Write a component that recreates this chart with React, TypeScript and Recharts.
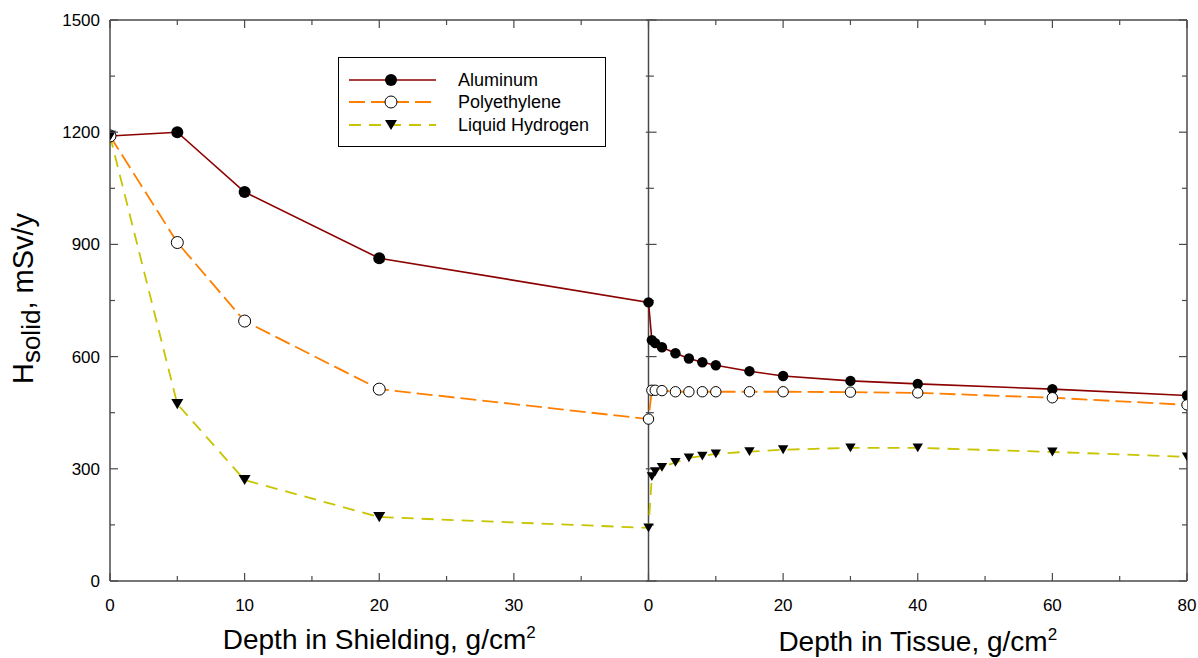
import React from "react";
import { ComposedChart, Line, XAxis, YAxis, ReferenceLine, Legend } from "recharts";

// depth behind the shield (g/cm2) and dose at that depth (mSv/y)
const shieldingDepth = [0, 5, 10, 20, 40];
const aluminumShielding = [1190, 1200, 1040, 863, 745];
const polyethyleneShielding = [1190, 905, 695, 513, 433];
const hydrogenShielding = [1190, 473, 270, 171, 142];

// depth in tissue behind 40 g/cm2 of shielding
const tissueDepth = [0.5, 1, 2, 4, 6, 8, 10, 15, 20, 30, 40, 60, 80];
const aluminumTissue = [644, 636, 625, 609, 595, 585, 577, 561, 548, 535, 527, 513, 496];
const polyethyleneTissue = [510, 510, 509, 506, 506, 506, 506, 506, 506, 505, 503, 490, 471];
const hydrogenTissue = [279, 292, 304, 317, 329, 334, 340, 346, 351, 356, 356, 345, 332];

const shieldingTicks = [0, 10, 20, 30];
const tissueTicks = [0, 20, 40, 60, 80];
const doseTicks = [0, 300, 600, 900, 1200, 1500];

const FONT = "'Liberation Sans', Arial, sans-serif";
const FRAME = "#4a4a4a";
const W = 1198;
const H = 658;

// the chart fills the whole window, so drop the default body margin
if (typeof document !== "undefined") document.body.style.margin = "0";

// both panels share one x scale: shielding 0..40 on the left, tissue 0..80 squeezed into 40..80
const SPLIT = 40;
const tissuePos = (t: number) => SPLIT + t / 2;

const rows = [
  ...shieldingDepth.map((d, i) => ({
    x: d,
    aluminum: aluminumShielding[i],
    polyethylene: polyethyleneShielding[i],
    hydrogen: hydrogenShielding[i],
  })),
  ...tissueDepth.map((d, i) => ({
    x: tissuePos(d),
    aluminum: aluminumTissue[i],
    polyethylene: polyethyleneTissue[i],
    hydrogen: hydrogenTissue[i],
  })),
];

const xLabels = new Map<number, string>();
shieldingTicks.forEach((t) => xLabels.set(t, String(t)));
tissueTicks.forEach((t) => xLabels.set(tissuePos(t), String(t)));
const xMajor = Array.from(xLabels.keys()).sort((a, b) => a - b);
const xMinor = xMajor.slice(1).map((v, i) => (v + xMajor[i]) / 2);
const xAll = [...xMajor, ...xMinor].sort((a, b) => a - b);

const yMinor = doseTicks.slice(1).map((v, i) => (v + doseTicks[i]) / 2);
const yAll = [...doseTicks, ...yMinor].sort((a, b) => a - b);

const series = [
  { key: "aluminum", name: "Aluminum", color: "#8b0000", dash: undefined, width: 1.6, marker: "filled" },
  { key: "polyethylene", name: "Polyethylene", color: "#ff7f00", dash: "16 6", width: 1.8, marker: "open" },
  { key: "hydrogen", name: "Liquid Hydrogen", color: "#c8c400", dash: "12 8", width: 1.8, marker: "triangle" },
];

function Marker({ kind, cx, cy, r }: { kind: string; cx: number; cy: number; r: number }) {
  if (kind === "triangle") {
    const w = r * 2;
    const h = r * 1.7;
    return (
      <polygon
        points={`${cx - w / 2},${cy - h / 2} ${cx + w / 2},${cy - h / 2} ${cx},${cy + h / 2}`}
        fill="#000"
      />
    );
  }
  if (kind === "open") return <circle cx={cx} cy={cy} r={r} fill="#fff" stroke="#000" strokeWidth={1} />;
  return <circle cx={cx} cy={cy} r={r} fill="#000" />;
}

const makeDot = (kind: string) => (p: any) => {
  if (p.cx == null || p.cy == null) return <g key={`${kind}-${p.index}`} />;
  const r = p.payload.x < SPLIT ? 6 : 5.2;
  return <Marker key={`${kind}-${p.index}`} kind={kind} cx={p.cx} cy={p.cy} r={r} />;
};

function BottomTick(props: any) {
  const { x, y, payload } = props;
  const label = xLabels.get(payload.value);
  const major = label !== undefined;
  return (
    <g>
      <line x1={x} x2={x} y1={y} y2={y - (major ? 8 : 5)} stroke={FRAME} strokeWidth={1.2} />
      {major && (
        <text x={x} y={y + 30} textAnchor="middle" fontSize={17} fontFamily={FONT} fill="#000">
          {label}
        </text>
      )}
    </g>
  );
}

function TopTick(props: any) {
  const { x, y, payload } = props;
  const major = xLabels.has(payload.value);
  return <line x1={x} x2={x} y1={y} y2={y + (major ? 8 : 5)} stroke={FRAME} strokeWidth={1.2} />;
}

function LeftTick(props: any) {
  const { x, y, payload } = props;
  const major = doseTicks.includes(payload.value);
  return (
    <g>
      <line x1={x} x2={x + (major ? 8 : 5)} y1={y} y2={y} stroke={FRAME} strokeWidth={1.2} />
      {major && (
        <text x={x - 10} y={y + 6} textAnchor="end" fontSize={17} fontFamily={FONT} fill="#000">
          {payload.value}
        </text>
      )}
    </g>
  );
}

function RightTick(props: any) {
  const { x, y, payload } = props;
  const major = doseTicks.includes(payload.value);
  return <line x1={x} x2={x - (major ? 8 : 5)} y1={y} y2={y} stroke={FRAME} strokeWidth={1.2} />;
}

function XTitles(props: any) {
  const vb = props.viewBox || { x: 110, y: 581, width: 1077 };
  const half = vb.width / 2;
  return (
    <g fontFamily={FONT} fill="#000">
      <text x={vb.x + half / 2} y={vb.y + 68} textAnchor="middle" fontSize={28}>
        Depth in Shielding, g/cm<tspan dy={-11} fontSize={17}>2</tspan>
      </text>
      <text x={vb.x + half * 1.5} y={vb.y + 70} textAnchor="middle" fontSize={28}>
        Depth in Tissue, g/cm<tspan dy={-11} fontSize={17}>2</tspan>
      </text>
    </g>
  );
}

function YTitle(props: any) {
  const vb = props.viewBox || { x: 0, y: 20, width: 110, height: 561 };
  const cx = vb.x + 33;
  const cy = vb.y + vb.height / 2 - 2;
  return (
    <text
      transform={`translate(${cx},${cy}) rotate(-90)`}
      x={0}
      y={0}
      textAnchor="middle"
      fontSize={29}
      fontFamily={FONT}
      fill="#000"
    >
      H<tspan fontSize={26} dy={7}>solid</tspan>
      <tspan dy={-7}>, mSv/y</tspan>
    </text>
  );
}

function LegendBox() {
  const rowsY = [23, 45, 68];
  return (
    <svg width={268} height={90} style={{ display: "block" }}>
      <rect x={0.5} y={0.5} width={267} height={89} fill="#fff" stroke="#000" strokeWidth={1} />
      {series.map((s, i) => (
        <g key={s.key}>
          <line
            x1={11}
            x2={98}
            y1={rowsY[i]}
            y2={rowsY[i]}
            stroke={s.color}
            strokeWidth={s.width}
            strokeDasharray={s.dash}
          />
          <Marker kind={s.marker} cx={53} cy={rowsY[i]} r={6} />
          <text x={120} y={rowsY[i] + 6} fontSize={18} fontFamily={FONT} fill="#000">
            {s.name}
          </text>
        </g>
      ))}
    </svg>
  );
}

export default function App() {
  return (
    <div style={{ width: W, height: H, fontFamily: FONT }}>
      <ComposedChart width={W} height={H} data={rows} margin={{ top: 19, right: 10, bottom: 0, left: 0 }}>
        <XAxis
          dataKey="x"
          type="number"
          domain={[0, 80]}
          ticks={xAll}
          allowDataOverflow
          height={77}
          tickSize={0}
          tickMargin={0}
          tickLine={false}
          tick={<BottomTick />}
          interval={0}
          axisLine={{ stroke: FRAME, strokeWidth: 1.5 }}
          label={(p: any) => <XTitles {...p} />}
        />
        <XAxis
          xAxisId="top"
          orientation="top"
          dataKey="x"
          type="number"
          domain={[0, 80]}
          ticks={xAll}
          allowDataOverflow
          height={1}
          tickSize={0}
          tickMargin={0}
          tickLine={false}
          tick={<TopTick />}
          interval={0}
          axisLine={{ stroke: FRAME, strokeWidth: 1.5 }}
        />
        <YAxis
          type="number"
          domain={[0, 1500]}
          ticks={yAll}
          allowDataOverflow
          width={110}
          tickSize={0}
          tickMargin={0}
          tickLine={false}
          tick={<LeftTick />}
          interval={0}
          axisLine={{ stroke: FRAME, strokeWidth: 1.5 }}
          label={(p: any) => <YTitle {...p} />}
        />
        <YAxis
          yAxisId="right"
          orientation="right"
          type="number"
          domain={[0, 1500]}
          ticks={yAll}
          allowDataOverflow
          width={1}
          tickSize={0}
          tickMargin={0}
          tickLine={false}
          tick={<RightTick />}
          interval={0}
          axisLine={{ stroke: FRAME, strokeWidth: 1.5 }}
        />
        <ReferenceLine x={SPLIT} stroke={FRAME} strokeWidth={1.5} />
        {yAll.map((v) => (
          <ReferenceLine
            key={`split-${v}`}
            segment={[
              { x: SPLIT - 0.2, y: v },
              { x: SPLIT + (doseTicks.includes(v) ? 0.6 : 0.4), y: v },
            ]}
            stroke={FRAME}
            strokeWidth={1.2}
          />
        ))}
        <Legend
          layout="vertical"
          align="center"
          verticalAlign="middle"
          wrapperStyle={{ top: 57, left: 338, width: 268, height: 90 }}
          content={() => <LegendBox />}
        />
        {series.map((s) => (
          <Line
            key={s.key}
            type="linear"
            dataKey={s.key}
            name={s.name}
            stroke={s.color}
            strokeWidth={s.width}
            strokeDasharray={s.dash}
            dot={makeDot(s.marker)}
            activeDot={false}
            isAnimationActive={false}
          />
        ))}
      </ComposedChart>
    </div>
  );
}
